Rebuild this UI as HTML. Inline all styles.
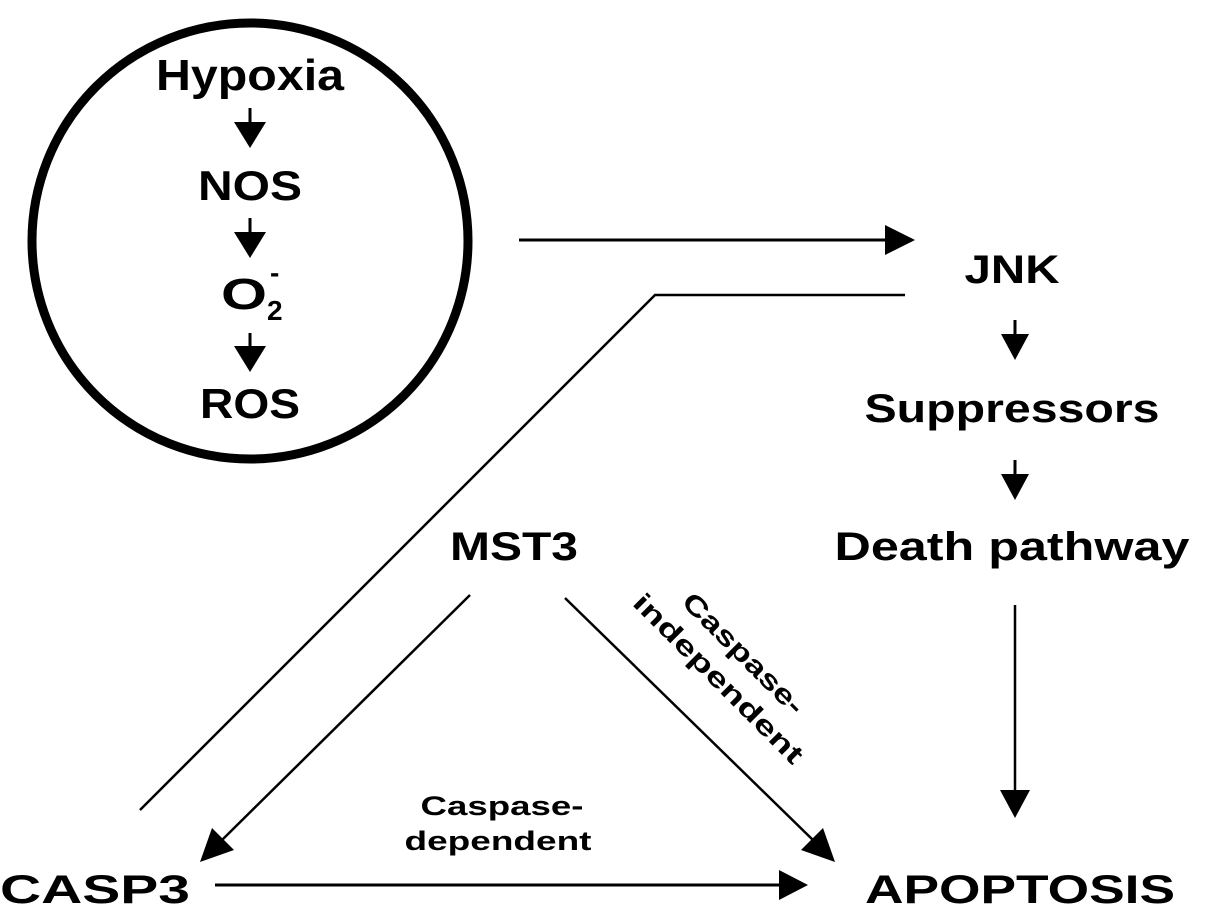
<!DOCTYPE html>
<html><head><meta charset="utf-8"><style>
html,body{margin:0;padding:0;background:#fff;}
svg{display:block;}
text{font-family:"Liberation Sans",sans-serif;font-weight:bold;fill:#000;}
</style></head><body>
<svg width="1205" height="920" viewBox="0 0 1205 920" xmlns="http://www.w3.org/2000/svg">
<circle cx="250" cy="241" r="218" fill="none" stroke="#000" stroke-width="9"/>
<text x="250" y="90" font-size="44" text-anchor="middle" textLength="188" lengthAdjust="spacingAndGlyphs">Hypoxia</text>
<line x1="250" y1="108" x2="250" y2="124" stroke="#000" stroke-width="3"/>
<polygon points="234,122 266,122 250,148" fill="#000"/>
<text x="250" y="200" font-size="42" text-anchor="middle" textLength="104" lengthAdjust="spacingAndGlyphs">NOS</text>
<line x1="250" y1="218" x2="250" y2="234" stroke="#000" stroke-width="3"/>
<polygon points="234,232 266,232 250,258" fill="#000"/>
<text x="244" y="309" font-size="44" text-anchor="middle" textLength="46" lengthAdjust="spacingAndGlyphs">O</text>
<text x="267" y="320" font-size="28">2</text>
<text x="270" y="282" font-size="28">-</text>
<line x1="250" y1="333" x2="250" y2="348" stroke="#000" stroke-width="3"/>
<polygon points="234,346 266,346 250,372" fill="#000"/>
<text x="250" y="418" font-size="42" text-anchor="middle" textLength="100" lengthAdjust="spacingAndGlyphs">ROS</text>

<line x1="519" y1="240" x2="888" y2="240" stroke="#000" stroke-width="3"/>
<polygon points="885,225 915,240 885,255" fill="#000"/>
<polyline points="905,295 655,295 140,810" fill="none" stroke="#000" stroke-width="2.5"/>

<text x="1012" y="283" font-size="40" text-anchor="middle" textLength="95" lengthAdjust="spacingAndGlyphs">JNK</text>
<line x1="1015" y1="320" x2="1015" y2="336" stroke="#000" stroke-width="3"/>
<polygon points="1001,334 1029,334 1015,360" fill="#000"/>
<text x="1012" y="422" font-size="40" text-anchor="middle" textLength="295" lengthAdjust="spacingAndGlyphs">Suppressors</text>
<line x1="1015" y1="460" x2="1015" y2="476" stroke="#000" stroke-width="3"/>
<polygon points="1001,474 1029,474 1015,500" fill="#000"/>
<text x="1012" y="560" font-size="40" text-anchor="middle" textLength="355" lengthAdjust="spacingAndGlyphs">Death pathway</text>
<line x1="1015" y1="605" x2="1015" y2="792" stroke="#000" stroke-width="2.5"/>
<polygon points="1000,790 1030,790 1015,818" fill="#000"/>

<text x="514" y="560" font-size="40" text-anchor="middle" textLength="128" lengthAdjust="spacingAndGlyphs">MST3</text>
<line x1="470" y1="595" x2="220" y2="842" stroke="#000" stroke-width="2.5"/>
<polygon points="200,862 212,828 234,850" fill="#000"/>
<line x1="565" y1="598" x2="815" y2="842" stroke="#000" stroke-width="2.5"/>
<polygon points="835,862 801,850 823,828" fill="#000"/>

<text x="737" y="660" font-size="27" text-anchor="middle" transform="rotate(45 737 660)" textLength="160" lengthAdjust="spacingAndGlyphs">Caspase-</text>
<text x="712" y="685" font-size="27" text-anchor="middle" transform="rotate(45 712 685)" textLength="228" lengthAdjust="spacingAndGlyphs">independent</text>

<text x="502" y="815" font-size="27" text-anchor="middle" textLength="163" lengthAdjust="spacingAndGlyphs">Caspase-</text>
<text x="498" y="850" font-size="27" text-anchor="middle" textLength="187" lengthAdjust="spacingAndGlyphs">dependent</text>

<text x="0" y="903" font-size="40" textLength="190" lengthAdjust="spacingAndGlyphs">CASP3</text>
<line x1="215" y1="885" x2="782" y2="885" stroke="#000" stroke-width="3"/>
<polygon points="779,870 808,885 779,900" fill="#000"/>
<text x="865" y="903" font-size="40" textLength="310" lengthAdjust="spacingAndGlyphs">APOPTOSIS</text>
</svg>
</body></html>
